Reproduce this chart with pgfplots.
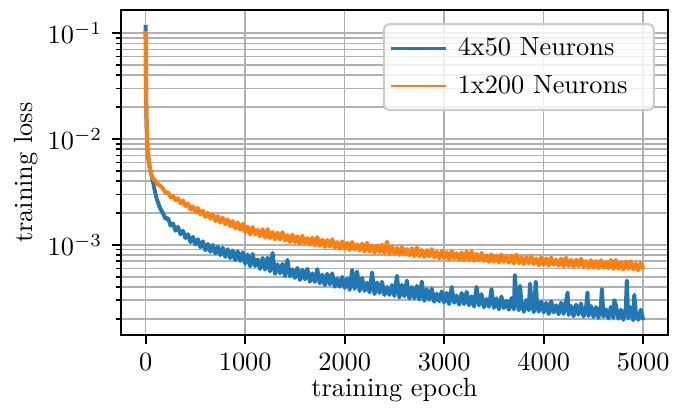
\documentclass[border=0pt]{standalone}
\usepackage{pgfplots}
\usepackage{pgfplotstable}
\pgfplotsset{compat=1.18}

\definecolor{mblue}{HTML}{1F77B4}
\definecolor{morange}{HTML}{FF7F0E}
\definecolor{mgrid}{HTML}{B0B0B0}

% 4x50 network, loss per epoch
\pgfplotstableread{
epoch loss
0 0.12
1 0.08
2 0.055
3 0.04
4 0.031
5 0.025
6 0.021
8 0.016
10 0.013
13 0.0105
16 0.009
20 0.0079
25 0.0069
30 0.0062
40 0.0054
50 0.0049
60 0.0045
70 0.0041
80 0.0037
90 0.0033
100 0.0030
112 0.0027
125 0.0025
137 0.00232
150 0.00218
175 0.00198
200 1.76e-3
225 1.79e-3
250 1.52e-3
275 1.59e-3
300 1.36e-3
325 1.48e-3
350 1.26e-3
375 1.36e-3
400 1.16e-3
425 1.26e-3
450 1.06e-3
475 1.19e-3
500 1.01e-3
525 1.13e-3
550 9.5e-4
575 1.08e-3
600 8.9e-4
625 1.02e-3
650 8.6e-4
675 1.0e-3
700 8.3e-4
725 9.6e-4
750 8.0e-4
775 9.4e-4
800 7.7e-4
825 9.1e-4
850 7.5e-4
875 8.85e-4
900 7.2e-4
925 8.7e-4
950 7.05e-4
975 8.5e-4
1000 6.65e-4
1025 8.10e-4
1050 6.29e-4
1075 8.19e-4
1100 6.30e-4
1125 7.30e-4
1150 5.92e-4
1175 7.53e-4
1200 5.84e-4
1225 7.57e-4
1250 5.61e-4
1275 8.40e-4
1300 5.32e-4
1325 6.54e-4
1350 5.39e-4
1375 6.62e-4
1400 5.08e-4
1425 7.20e-4
1450 5.05e-4
1475 5.88e-4
1500 4.87e-4
1525 6.06e-4
1550 4.66e-4
1575 5.83e-4
1600 4.73e-4
1625 5.95e-4
1650 4.48e-4
1675 5.38e-4
1700 4.46e-4
1725 5.90e-4
1750 4.33e-4
1775 5.23e-4
1800 4.16e-4
1825 5.33e-4
1850 4.23e-4
1875 5.38e-4
1900 4.02e-4
1925 4.78e-4
1950 4.02e-4
1975 4.98e-4
2000 3.91e-4
2025 4.80e-4
2050 3.76e-4
2075 5.80e-4
2100 3.84e-4
2125 5.60e-4
2150 3.66e-4
2175 4.87e-4
2200 3.67e-4
2225 4.39e-4
2250 3.56e-4
2275 5.50e-4
2300 3.43e-4
2325 4.41e-4
2350 3.51e-4
2375 4.48e-4
2400 3.36e-4
2425 4.00e-4
2450 3.37e-4
2475 4.17e-4
2500 3.29e-4
2525 5.10e-4
2550 3.18e-4
2575 4.19e-4
2600 3.26e-4
2625 4.60e-4
2650 3.12e-4
2675 3.99e-4
2700 3.13e-4
2725 4.10e-4
2750 3.06e-4
2775 4.50e-4
2800 2.96e-4
2825 3.81e-4
2850 3.04e-4
2875 3.86e-4
2900 2.90e-4
2925 3.46e-4
2950 2.93e-4
2975 3.63e-4
3000 2.86e-4
3025 3.52e-4
3050 2.76e-4
3075 4.00e-4
3100 2.84e-4
3125 3.32e-4
3150 2.72e-4
3175 3.51e-4
3200 2.75e-4
3225 3.60e-4
3250 2.69e-4
3275 3.27e-4
3300 2.61e-4
3325 4.00e-4
3350 2.68e-4
3375 3.43e-4
3400 2.57e-4
3425 3.08e-4
3450 2.60e-4
3475 3.83e-4
3500 2.54e-4
3525 3.12e-4
3550 2.46e-4
3575 3.25e-4
3600 2.53e-4
3625 2.96e-4
3650 2.44e-4
3675 3.14e-4
3700 2.46e-4
3710 5.20e-4
3725 3.22e-4
3750 2.41e-4
3762 4.10e-4
3775 2.92e-4
3800 2.33e-4
3825 3.01e-4
3850 2.41e-4
3862 4.30e-4
3875 3.07e-4
3900 2.31e-4
3920 4.50e-4
3935 2.60e-4
3950 2.34e-4
3975 2.91e-4
4000 2.30e-4
4025 2.84e-4
4050 2.22e-4
4075 2.94e-4
4100 2.30e-4
4125 2.69e-4
4150 2.21e-4
4175 2.84e-4
4200 2.23e-4
4225 2.93e-4
4240 3.55e-4
4250 2.18e-4
4275 2.65e-4
4300 2.12e-4
4325 2.73e-4
4350 2.19e-4
4375 2.80e-4
4400 2.11e-4
4425 2.52e-4
4440 3.55e-4
4450 2.13e-4
4475 2.65e-4
4500 2.09e-4
4525 2.58e-4
4550 2.04e-4
4575 2.69e-4
4585 3.83e-4
4600 2.10e-4
4625 2.46e-4
4650 2.02e-4
4675 2.60e-4
4700 2.04e-4
4710 3.00e-4
4725 2.69e-4
4750 2.01e-4
4775 2.44e-4
4800 1.96e-4
4825 2.53e-4
4835 4.60e-4
4850 2.02e-4
4875 2.58e-4
4900 1.94e-4
4910 3.37e-4
4925 2.32e-4
4950 1.96e-4
4975 2.44e-4
5000 1.95e-4
}\deepnet

% 1x200 network
\pgfplotstableread{
epoch loss
0 0.105
1 0.075
2 0.055
3 0.042
4 0.033
5 0.027
6 0.022
8 0.017
10 0.0135
13 0.011
16 0.0094
20 0.0082
25 0.0072
30 0.0064
40 0.0055
50 0.0049
60 0.0045
70 0.0043
80 0.0042
90 0.0041
100 0.0040
115 0.0038
130 0.0037
147 0.00362
175 0.0034
200 3.10e-3
225 3.14e-3
250 2.81e-3
275 2.91e-3
300 2.64e-3
325 2.75e-3
350 2.47e-3
375 2.63e-3
400 2.32e-3
425 2.46e-3
450 2.16e-3
475 2.31e-3
500 2.04e-3
525 2.23e-3
550 1.94e-3
575 2.11e-3
600 1.84e-3
625 2.01e-3
650 1.77e-3
675 1.95e-3
700 1.68e-3
725 1.87e-3
750 1.62e-3
775 1.81e-3
800 1.56e-3
825 1.74e-3
850 1.50e-3
875 1.68e-3
900 1.43e-3
925 1.63e-3
950 1.39e-3
975 1.58e-3
1000 1.321e-3
1025 1.490e-3
1050 1.251e-3
1075 1.478e-3
1100 1.248e-3
1125 1.392e-3
1150 1.207e-3
1175 1.401e-3
1200 1.170e-3
1225 1.411e-3
1250 1.160e-3
1275 1.321e-3
1300 1.124e-3
1325 1.307e-3
1350 1.127e-3
1375 1.319e-3
1400 1.095e-3
1425 1.237e-3
1450 1.064e-3
1475 1.250e-3
1500 1.057e-3
1525 1.207e-3
1550 1.029e-3
1575 1.221e-3
1600 1.035e-3
1625 1.158e-3
1650 1.008e-3
1675 1.173e-3
1700 9.83e-4
1725 1.187e-3
1750 9.79e-4
1775 1.118e-3
1800 9.55e-4
1825 1.113e-3
1850 9.63e-4
1875 1.129e-3
1900 9.40e-4
1925 1.064e-3
1950 9.18e-4
1975 1.080e-3
2000 9.16e-4
2025 1.048e-3
2050 8.95e-4
2075 1.064e-3
2100 9.03e-4
2125 1.012e-3
2150 8.84e-4
2175 1.029e-3
2200 8.64e-4
2225 1.045e-3
2250 8.63e-4
2275 9.88e-4
2300 8.45e-4
2325 9.86e-4
2350 8.54e-4
2375 1.002e-3
2400 8.36e-4
2425 1.070e-3
2450 8.19e-4
2475 9.65e-4
2500 8.19e-4
2525 9.37e-4
2550 8.02e-4
2575 9.55e-4
2600 8.12e-4
2625 9.12e-4
2650 7.96e-4
2675 9.29e-4
2700 7.80e-4
2725 9.45e-4
2750 7.81e-4
2775 8.95e-4
2800 7.65e-4
2825 8.94e-4
2850 7.76e-4
2875 9.11e-4
2900 7.61e-4
2925 8.63e-4
2950 7.46e-4
2975 8.80e-4
3000 7.48e-4
3025 8.56e-4
3050 7.33e-4
3075 8.73e-4
3100 7.44e-4
3125 8.35e-4
3150 7.30e-4
3175 8.52e-4
3200 7.17e-4
3225 8.69e-4
3250 7.19e-4
3275 8.70e-4
3300 7.06e-4
3325 8.25e-4
3350 7.15e-4
3375 8.41e-4
3400 7.02e-4
3425 7.97e-4
3450 6.90e-4
3475 8.14e-4
3500 6.93e-4
3525 7.94e-4
3550 6.80e-4
3575 8.10e-4
3600 6.90e-4
3625 7.75e-4
3650 6.78e-4
3675 7.91e-4
3700 6.66e-4
3725 8.08e-4
3750 6.69e-4
3775 7.67e-4
3800 6.58e-4
3825 7.69e-4
3850 6.67e-4
3875 7.85e-4
3900 6.56e-4
3925 7.44e-4
3950 6.44e-4
3975 7.61e-4
4000 6.47e-4
4025 7.43e-4
4050 6.37e-4
4075 7.59e-4
4100 6.47e-4
4125 7.27e-4
4150 6.36e-4
4175 7.43e-4
4200 6.26e-4
4225 7.59e-4
4250 6.29e-4
4275 7.21e-4
4300 6.18e-4
4325 7.24e-4
4350 6.28e-4
4375 7.39e-4
4400 6.18e-4
4425 7.02e-4
4450 6.07e-4
4475 7.17e-4
4500 6.11e-4
4525 7.01e-4
4550 6.01e-4
4575 7.16e-4
4600 6.11e-4
4625 6.87e-4
4650 6.01e-4
4675 7.21e-4
4700 5.92e-4
4725 7.18e-4
4750 5.95e-4
4775 6.83e-4
4800 5.85e-4
4825 6.97e-4
4850 5.95e-4
4875 7.00e-4
4900 5.85e-4
4925 6.65e-4
4950 5.76e-4
4975 6.80e-4
5000 5.92e-4
}\widenet

\begin{document}
\begin{tikzpicture}
\useasboundingbox (-45.9pt,-28.5pt) rectangle (216.7pt,127.4pt);
\begin{axis}[
  at={(0,0)}, anchor=south west,
  scale only axis, width=208pt, height=123.6pt,
  xmin=-250, xmax=5250,
  ymode=log, ymin=1.4e-4, ymax=0.1655,
  xtick={0,1000,2000,3000,4000,5000},
  ytick={1e-3,1e-2,1e-1},
  minor ytick={2e-4,3e-4,4e-4,5e-4,6e-4,7e-4,8e-4,9e-4,
               2e-3,3e-3,4e-3,5e-3,6e-3,7e-3,8e-3,9e-3,
               2e-2,3e-2,4e-2,5e-2,6e-2,7e-2,8e-2,9e-2},
  minor x tick num=0,
  scaled x ticks=false,
  /pgf/number format/1000 sep={},
  tick pos=left, tick align=outside,
  major tick length=3.5pt, minor tick length=2pt,
  every major tick/.append style={black, line width=0.8pt},
  every minor tick/.append style={black, line width=0.6pt},
  xmajorgrids, ymajorgrids, yminorgrids,
  major grid style={mgrid, line width=0.6pt},
  minor grid style={mgrid, line width=0.6pt},
  axis line style={black, line width=0.8pt},
  xlabel={training epoch},
  ylabel={training loss},
  xlabel style={yshift=4pt},
  ylabel style={yshift=-3pt},
  legend cell align=left,
  legend style={at={(1,1)}, anchor=north east, xshift=-5pt, yshift=-5pt,
    draw=black!20, line width=0.8pt, rounded corners=2pt,
    fill=white, fill opacity=0.8, draw opacity=1, text opacity=1,
    inner xsep=2pt, inner ysep=3pt, row sep=2pt},
  legend image code/.code={\draw[#1, line width=1.1pt] (0pt,0pt) -- (21pt,0pt);},
]
\addplot[mblue, line width=1.5pt, line join=round] table[x=epoch, y=loss] {\deepnet};
\addlegendentry{\hspace*{2pt}4x50 Neurons\hspace*{6pt}}
\addplot[morange, line width=1.5pt, line join=round] table[x=epoch, y=loss] {\widenet};
\addlegendentry{\hspace*{2pt}1x200 Neurons\hspace*{6pt}}
\end{axis}
\end{tikzpicture}
\end{document}
